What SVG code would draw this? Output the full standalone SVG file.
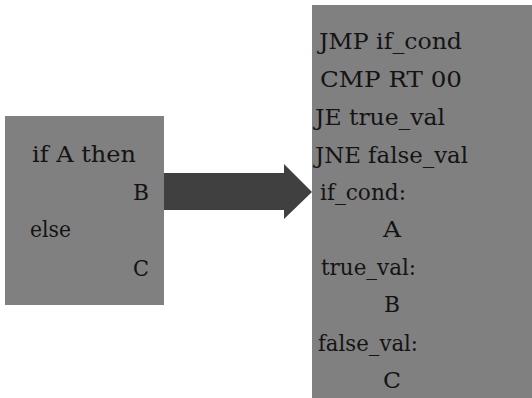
<svg xmlns="http://www.w3.org/2000/svg" width="532" height="398" viewBox="0 0 532 398">
<style>
.box{fill:#808080;}
.t{font-family:"DejaVu Serif","Liberation Serif","Times New Roman",serif;font-size:22px;fill:#141414;}
.arrow{fill:#404040;}
</style>
<rect width="532" height="398" fill="#ffffff"/>
<g id="source">
<rect class="box" x="5" y="116" width="159" height="189"/>
<text class="t" x="32" y="162" textLength="104" lengthAdjust="spacingAndGlyphs">if A then</text>
<text class="t" x="133" y="200" textLength="16" lengthAdjust="spacingAndGlyphs">B</text>
<text class="t" x="30" y="237" textLength="41" lengthAdjust="spacingAndGlyphs">else</text>
<text class="t" x="133" y="276" textLength="16" lengthAdjust="spacingAndGlyphs">C</text>
</g>
<g id="connectors">
<polygon class="arrow" points="164,173 284,173 284,164 312,192 284,219 284,210 164,210"/>
</g>
<g id="assembly">
<rect class="box" x="312" y="5" width="220" height="393"/>
<text class="t" x="319" y="49" textLength="143" lengthAdjust="spacingAndGlyphs">JMP if_cond</text>
<text class="t" x="320" y="87" textLength="142" lengthAdjust="spacingAndGlyphs">CMP RT 00</text>
<text class="t" x="315" y="125" textLength="130" lengthAdjust="spacingAndGlyphs">JE true_val</text>
<text class="t" x="315" y="163" textLength="153" lengthAdjust="spacingAndGlyphs">JNE false_val</text>
<text class="t" x="320" y="200" textLength="86" lengthAdjust="spacingAndGlyphs">if_cond:</text>
<text class="t" x="383" y="237" textLength="18" lengthAdjust="spacingAndGlyphs">A</text>
<text class="t" x="321" y="275" textLength="95" lengthAdjust="spacingAndGlyphs">true_val:</text>
<text class="t" x="384" y="312" textLength="16" lengthAdjust="spacingAndGlyphs">B</text>
<text class="t" x="318" y="351" textLength="100" lengthAdjust="spacingAndGlyphs">false_val:</text>
<text class="t" x="383" y="388" textLength="18" lengthAdjust="spacingAndGlyphs">C</text>
</g>
</svg>
